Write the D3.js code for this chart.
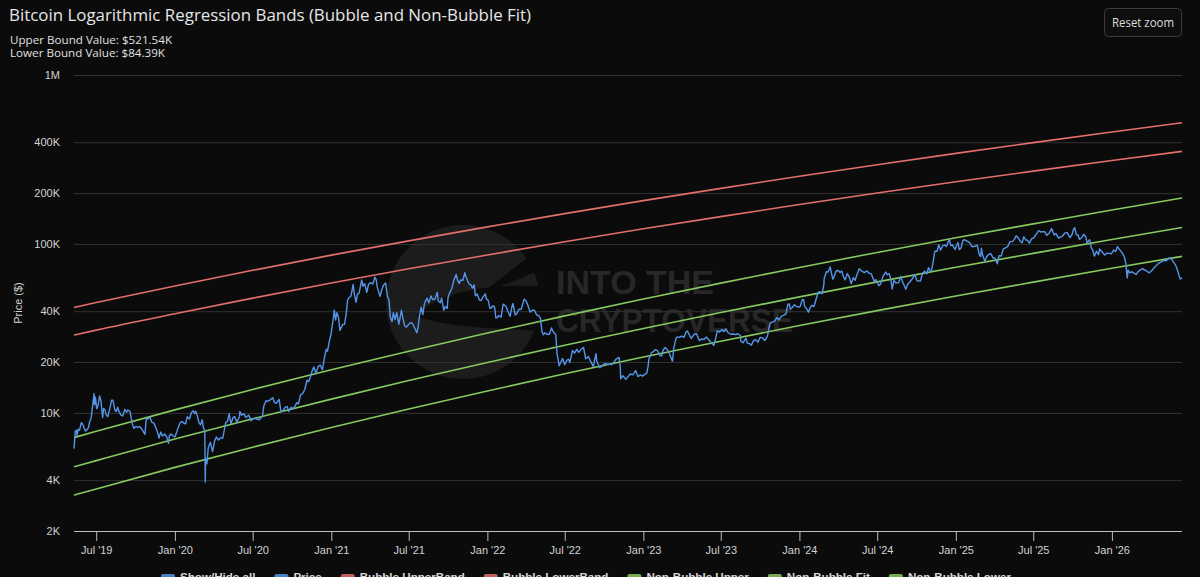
<!DOCTYPE html>
<html><head><meta charset="utf-8">
<script src="https://cdn.jsdelivr.net/npm/d3@7"></script>
<style>
html,body{margin:0;padding:0;background:#0b0b0b;overflow:hidden;}
svg{display:block;}
</style></head><body>
<svg id="c" width="1200" height="577"></svg>
<script>
// ---------- DATA ----------
const titleText = "Bitcoin Logarithmic Regression Bands (Bubble and Non-Bubble Fit)";
const subtitleLines = ["Upper Bound Value: $521.54K", "Lower Bound Value: $84.39K"];
const yTicks = [2000, 4000, 10000, 20000, 40000, 100000, 200000, 400000, 1000000];
const yTickLabels = ["2K", "4K", "10K", "20K", "40K", "100K", "200K", "400K", "1M"];
const xTicks = ["2019-07-01","2020-01-01","2020-07-01","2021-01-01","2021-07-01","2022-01-01","2022-07-01","2023-01-01","2023-07-01","2024-01-01","2024-07-01","2025-01-01","2025-07-01","2026-01-01"];
const xTickLabels = ["Jul '19","Jan '20","Jul '20","Jan '21","Jul '21","Jan '22","Jul '22","Jan '23","Jul '23","Jan '24","Jul '24","Jan '25","Jul '25","Jan '26"];
const legendLabels = ["Show/Hide all","Price","Bubble UpperBand","Bubble LowerBand","Non-Bubble Upper","Non-Bubble Fit","Non-Bubble Lower"];

// regression band values (thousand USD) at these dates
const bandDates = ["2019-05-10","2019-07-01","2020-01-01","2020-07-01","2021-01-01","2021-07-01","2022-01-01","2022-07-01","2023-01-01","2023-07-01","2024-01-01","2024-07-01","2025-01-01","2025-07-01","2026-01-01","2026-06-14"];
const bubbleUpper = [42.1,45.0,56.4,69.8,85.9,104.3,126.2,151.2,180.4,213.4,251.6,294.5,343.7,397.7,459.9,521.54];
const bubbleLower = [28.9,30.9,38.6,47.8,58.7,71.3,86.1,103.1,122.9,145.2,171.1,200.1,233.2,269.7,311.6,353.2];
const nonBubbleUpper = [7.14,7.78,10.42,13.76,18.0,23.18,29.68,37.51,47.18,58.66,72.62,89.1,108.9,131.5,158.9,187.1];
const nonBubbleFit = [4.80,5.22,7.00,9.23,12.07,15.54,19.88,25.13,31.6,39.26,48.63,59.63,72.81,87.99,106.2,125.0];
const nonBubbleLower = [3.26,3.55,4.76,6.27,8.19,10.54,13.48,17.03,21.4,26.58,32.89,40.32,49.2,59.43,71.73,84.39];

// BTC price (thousand USD)
const priceSeries = [
["2019-05-10",6.15],["2019-05-13",7.8],["2019-05-16",7.9],["2019-05-17",7.35],["2019-05-20",8.0],["2019-05-23",7.9],["2019-05-27",8.75],["2019-05-30",8.6],
["2019-06-03",8.1],["2019-06-06",7.8],["2019-06-10",8.0],["2019-06-13",8.2],["2019-06-16",8.95],["2019-06-19",9.3],["2019-06-22",10.7],["2019-06-26",13.0],["2019-06-27",11.2],["2019-06-29",12.4],
["2019-07-02",10.6],["2019-07-05",11.0],["2019-07-09",12.6],["2019-07-12",11.8],["2019-07-16",9.4],["2019-07-18",10.6],["2019-07-21",10.5],["2019-07-24",9.8],["2019-07-28",9.5],
["2019-08-01",10.4],["2019-08-06",11.9],["2019-08-09",11.9],["2019-08-14",10.3],["2019-08-17",10.2],["2019-08-20",10.8],["2019-08-24",10.1],["2019-08-28",9.7],
["2019-09-01",9.6],["2019-09-06",10.5],["2019-09-10",10.1],["2019-09-13",10.4],["2019-09-18",10.2],["2019-09-24",8.5],["2019-09-27",8.1],
["2019-10-02",8.3],["2019-10-07",8.2],["2019-10-11",8.3],["2019-10-16",8.0],["2019-10-23",7.45],["2019-10-26",9.25],["2019-10-30",9.2],
["2019-11-04",9.4],["2019-11-08",8.8],["2019-11-13",8.7],["2019-11-18",8.1],["2019-11-22",7.6],["2019-11-25",7.1],["2019-11-29",7.7],
["2019-12-03",7.3],["2019-12-08",7.5],["2019-12-13",7.2],["2019-12-17",6.6],["2019-12-19",7.3],["2019-12-23",7.5],["2019-12-28",7.3],
["2020-01-01",7.2],["2020-01-06",7.8],["2020-01-08",8.1],["2020-01-14",8.8],["2020-01-18",8.9],["2020-01-22",8.7],["2020-01-26",8.6],["2020-01-30",9.5],
["2020-02-04",9.2],["2020-02-09",10.1],["2020-02-13",10.3],["2020-02-16",9.9],["2020-02-19",10.2],["2020-02-22",9.7],["2020-02-26",8.8],
["2020-03-01",8.5],["2020-03-05",9.1],["2020-03-08",8.1],["2020-03-11",7.9],["2020-03-12",3.9],["2020-03-13",5.4],["2020-03-16",5.0],["2020-03-19",6.2],["2020-03-24",6.7],["2020-03-29",5.9],
["2020-04-03",6.8],["2020-04-07",7.2],["2020-04-12",6.9],["2020-04-16",7.1],["2020-04-22",7.1],["2020-04-29",8.8],
["2020-05-03",8.9],["2020-05-07",9.9],["2020-05-11",8.6],["2020-05-16",9.4],["2020-05-20",9.5],["2020-05-25",8.8],["2020-05-31",9.5],
["2020-06-01",10.2],["2020-06-05",9.7],["2020-06-10",9.9],["2020-06-15",9.4],["2020-06-22",9.7],["2020-06-27",9.0],
["2020-07-01",9.2],["2020-07-06",9.3],["2020-07-11",9.2],["2020-07-16",9.1],["2020-07-21",9.4],["2020-07-24",9.6],["2020-07-27",11.0],
["2020-08-01",11.8],["2020-08-05",11.7],["2020-08-10",11.9],["2020-08-17",12.3],["2020-08-21",11.5],["2020-08-25",11.4],
["2020-09-01",12.0],["2020-09-05",10.2],["2020-09-10",10.3],["2020-09-15",10.8],["2020-09-20",10.9],["2020-09-23",10.2],["2020-09-29",10.8],
["2020-10-03",10.6],["2020-10-08",10.9],["2020-10-12",11.5],["2020-10-16",11.3],["2020-10-21",12.8],["2020-10-26",13.0],["2020-10-31",13.8],
["2020-11-05",15.6],["2020-11-09",15.3],["2020-11-13",16.3],["2020-11-17",17.7],["2020-11-21",18.7],["2020-11-26",17.1],
["2020-12-01",18.8],["2020-12-06",19.2],["2020-12-11",18.0],["2020-12-16",21.3],["2020-12-20",23.8],["2020-12-23",23.2],["2020-12-27",26.3],["2020-12-31",29.0],
["2021-01-03",32.8],["2021-01-06",36.8],["2021-01-08",40.6],["2021-01-11",35.5],["2021-01-14",39.2],["2021-01-18",36.6],["2021-01-21",30.8],["2021-01-25",32.3],["2021-01-28",33.4],
["2021-02-01",33.5],["2021-02-05",38.9],["2021-02-08",46.4],["2021-02-11",48.0],["2021-02-16",49.2],["2021-02-21",57.5],["2021-02-24",50.0],["2021-02-28",45.2],
["2021-03-03",50.5],["2021-03-07",51.2],["2021-03-13",61.2],["2021-03-16",56.2],["2021-03-20",58.3],["2021-03-25",51.7],["2021-03-29",57.6],
["2021-04-02",59.0],["2021-04-08",58.0],["2021-04-13",63.5],["2021-04-16",61.4],["2021-04-18",56.1],["2021-04-22",51.7],["2021-04-25",49.0],["2021-04-29",53.6],
["2021-05-03",57.0],["2021-05-08",58.8],["2021-05-12",49.2],["2021-05-16",46.4],["2021-05-19",37.0],["2021-05-23",34.7],["2021-05-26",39.2],["2021-05-30",35.7],
["2021-06-03",39.2],["2021-06-08",33.5],["2021-06-14",40.5],["2021-06-18",35.8],["2021-06-22",32.5],["2021-06-26",32.2],
["2021-07-01",33.5],["2021-07-06",34.2],["2021-07-10",33.8],["2021-07-15",31.8],["2021-07-20",29.8],["2021-07-23",32.3],["2021-07-26",37.3],["2021-07-30",42.2],
["2021-08-03",38.2],["2021-08-07",44.6],["2021-08-13",47.8],["2021-08-17",44.8],["2021-08-22",49.3],["2021-08-26",46.9],["2021-08-31",47.1],
["2021-09-06",51.7],["2021-09-08",46.1],["2021-09-13",44.9],["2021-09-16",47.7],["2021-09-21",40.6],["2021-09-25",42.7],["2021-09-29",41.5],
["2021-10-01",48.2],["2021-10-05",51.5],["2021-10-10",54.7],["2021-10-15",61.5],["2021-10-20",66.0],["2021-10-23",61.3],["2021-10-27",58.4],["2021-10-31",61.3],
["2021-11-05",61.0],["2021-11-09",67.5],["2021-11-12",64.1],["2021-11-16",60.3],["2021-11-19",58.1],["2021-11-24",57.1],["2021-11-27",54.7],
["2021-12-01",57.2],["2021-12-04",49.4],["2021-12-08",50.6],["2021-12-13",46.7],["2021-12-17",46.2],["2021-12-22",48.6],["2021-12-27",50.7],["2021-12-30",47.1],
["2022-01-03",46.4],["2022-01-07",41.6],["2022-01-10",41.8],["2022-01-14",43.1],["2022-01-18",42.3],["2022-01-21",36.4],["2022-01-24",36.6],["2022-01-28",37.7],
["2022-02-02",36.9],["2022-02-07",44.0],["2022-02-10",43.5],["2022-02-14",42.5],["2022-02-18",40.0],["2022-02-23",37.3],["2022-02-24",38.3],["2022-02-28",43.2],
["2022-03-02",44.4],["2022-03-07",38.0],["2022-03-11",38.8],["2022-03-16",41.1],["2022-03-21",41.0],["2022-03-28",47.1],
["2022-04-02",45.8],["2022-04-06",43.2],["2022-04-11",39.5],["2022-04-16",40.5],["2022-04-21",40.5],["2022-04-26",38.1],["2022-04-30",37.7],
["2022-05-05",36.5],["2022-05-09",30.1],["2022-05-12",29.0],["2022-05-16",29.8],["2022-05-20",29.2],["2022-05-26",29.2],["2022-05-31",31.8],
["2022-06-05",29.9],["2022-06-10",29.1],["2022-06-13",22.5],["2022-06-18",19.0],["2022-06-22",20.0],["2022-06-26",21.0],
["2022-07-01",19.3],["2022-07-06",20.5],["2022-07-10",20.8],["2022-07-13",19.9],["2022-07-19",23.4],["2022-07-24",22.6],["2022-07-29",23.8],
["2022-08-03",22.8],["2022-08-08",23.8],["2022-08-14",24.4],["2022-08-19",20.9],["2022-08-25",21.6],["2022-08-31",20.1],
["2022-09-06",18.8],["2022-09-12",22.4],["2022-09-14",20.2],["2022-09-21",18.5],["2022-09-27",19.1],
["2022-10-03",19.6],["2022-10-08",19.4],["2022-10-13",19.4],["2022-10-18",19.3],["2022-10-25",20.1],["2022-10-29",20.8],
["2022-11-05",21.3],["2022-11-08",18.5],["2022-11-09",15.9],["2022-11-14",16.6],["2022-11-21",15.8],["2022-11-27",16.5],
["2022-12-01",17.0],["2022-12-07",16.8],["2022-12-14",17.8],["2022-12-19",16.4],["2022-12-25",16.8],["2022-12-30",16.5],
["2023-01-04",16.9],["2023-01-09",17.2],["2023-01-12",18.9],["2023-01-14",20.9],["2023-01-20",22.7],["2023-01-25",23.1],["2023-01-29",23.7],
["2023-02-03",23.4],["2023-02-09",21.8],["2023-02-13",21.8],["2023-02-16",23.5],["2023-02-21",24.4],["2023-02-27",23.5],
["2023-03-03",22.4],["2023-03-10",20.2],["2023-03-13",24.1],["2023-03-18",27.4],["2023-03-21",28.2],["2023-03-26",28.0],["2023-03-31",28.5],
["2023-04-06",28.0],["2023-04-11",30.2],["2023-04-14",30.5],["2023-04-19",28.8],["2023-04-23",27.6],["2023-04-30",29.2],
["2023-05-05",29.5],["2023-05-12",26.8],["2023-05-17",27.4],["2023-05-23",27.2],["2023-05-28",28.1],
["2023-06-02",27.3],["2023-06-07",26.3],["2023-06-10",25.8],["2023-06-15",25.1],["2023-06-20",28.3],["2023-06-23",30.7],["2023-06-28",30.1],
["2023-07-04",31.2],["2023-07-08",30.3],["2023-07-13",31.4],["2023-07-18",29.9],["2023-07-24",29.2],["2023-07-30",29.3],
["2023-08-05",29.1],["2023-08-10",29.4],["2023-08-16",28.7],["2023-08-17",26.6],["2023-08-22",26.0],["2023-08-29",27.7],
["2023-09-01",25.9],["2023-09-06",25.7],["2023-09-11",25.2],["2023-09-15",26.6],["2023-09-20",27.2],["2023-09-26",26.2],
["2023-10-01",28.0],["2023-10-06",27.9],["2023-10-12",26.8],["2023-10-18",28.4],["2023-10-23",33.0],["2023-10-26",34.2],["2023-10-31",34.6],
["2023-11-05",35.1],["2023-11-09",36.7],["2023-11-14",35.5],["2023-11-20",37.4],["2023-11-25",37.8],
["2023-12-01",38.7],["2023-12-05",44.0],["2023-12-08",44.2],["2023-12-11",41.2],["2023-12-15",41.9],["2023-12-20",43.6],["2023-12-26",42.5],["2023-12-31",42.3],
["2024-01-03",42.8],["2024-01-08",47.0],["2024-01-11",46.6],["2024-01-13",42.9],["2024-01-18",41.3],["2024-01-22",39.5],["2024-01-26",41.8],["2024-01-30",43.3],
["2024-02-04",42.6],["2024-02-09",47.1],["2024-02-14",51.8],["2024-02-18",52.1],["2024-02-23",50.7],["2024-02-27",57.0],["2024-02-28",62.4],
["2024-03-04",68.4],["2024-03-08",68.3],["2024-03-13",73.1],["2024-03-19",62.0],["2024-03-22",63.8],["2024-03-27",69.4],
["2024-04-01",69.7],["2024-04-05",67.8],["2024-04-09",69.1],["2024-04-13",63.9],["2024-04-17",61.3],["2024-04-22",66.8],["2024-04-27",63.4],
["2024-05-01",58.2],["2024-05-06",63.2],["2024-05-10",60.8],["2024-05-15",66.2],["2024-05-20",71.4],["2024-05-25",69.3],
["2024-06-01",67.7],["2024-06-07",69.3],["2024-06-11",67.3],["2024-06-17",66.5],["2024-06-24",60.2],["2024-06-28",61.5],
["2024-07-05",56.6],["2024-07-09",58.0],["2024-07-15",64.8],["2024-07-21",68.2],["2024-07-25",65.7],["2024-07-29",66.7],
["2024-08-02",61.4],["2024-08-05",54.0],["2024-08-09",60.9],["2024-08-14",58.7],["2024-08-20",59.0],["2024-08-25",64.2],["2024-08-30",59.1],
["2024-09-06",54.0],["2024-09-10",57.6],["2024-09-17",60.3],["2024-09-23",63.3],["2024-09-27",65.8],
["2024-10-02",60.6],["2024-10-10",60.3],["2024-10-15",67.0],["2024-10-20",69.0],["2024-10-25",66.6],["2024-10-29",72.3],
["2024-11-03",68.7],["2024-11-05",69.4],["2024-11-08",76.5],["2024-11-12",88.0],["2024-11-13",90.5],["2024-11-18",90.5],["2024-11-22",98.9],["2024-11-26",91.9],
["2024-12-01",97.2],["2024-12-05",98.8],["2024-12-10",96.6],["2024-12-13",101.4],["2024-12-17",106.0],["2024-12-20",97.8],["2024-12-24",98.7],["2024-12-30",92.7],
["2025-01-02",96.9],["2025-01-06",102.0],["2025-01-09",92.5],["2025-01-13",94.5],["2025-01-17",104.3],["2025-01-21",106.1],["2025-01-25",104.7],["2025-01-31",102.4],
["2025-02-03",101.4],["2025-02-07",96.6],["2025-02-13",96.6],["2025-02-20",98.3],["2025-02-25",86.0],["2025-02-28",84.3],
["2025-03-02",94.3],["2025-03-04",87.2],["2025-03-10",78.6],["2025-03-14",84.0],["2025-03-19",86.9],["2025-03-24",87.5],["2025-03-29",82.6],
["2025-04-02",82.5],["2025-04-08",76.3],["2025-04-12",85.3],["2025-04-17",84.9],["2025-04-22",93.4],["2025-04-28",95.0],
["2025-05-02",96.5],["2025-05-08",103.2],["2025-05-14",103.5],["2025-05-18",106.5],["2025-05-22",111.6],["2025-05-26",109.4],["2025-05-31",104.6],
["2025-06-05",101.5],["2025-06-09",110.3],["2025-06-13",105.9],["2025-06-18",104.9],["2025-06-22",101.0],["2025-06-27",107.1],
["2025-07-02",108.8],["2025-07-10",116.0],["2025-07-14",119.8],["2025-07-18",117.8],["2025-07-24",118.3],["2025-07-28",118.0],
["2025-08-02",112.5],["2025-08-08",116.6],["2025-08-13",123.3],["2025-08-19",112.9],["2025-08-23",115.4],["2025-08-29",108.4],
["2025-09-01",109.2],["2025-09-07",111.1],["2025-09-13",116.0],["2025-09-18",117.1],["2025-09-25",109.0],["2025-09-30",114.0],
["2025-10-03",122.3],["2025-10-06",124.7],["2025-10-10",113.2],["2025-10-14",113.0],["2025-10-17",106.5],["2025-10-22",108.5],["2025-10-27",114.1],
["2025-11-01",110.0],["2025-11-04",101.5],["2025-11-10",106.0],["2025-11-14",94.5],["2025-11-17",92.2],["2025-11-21",84.7],["2025-11-26",90.5],
["2025-12-01",86.5],["2025-12-03",93.4],["2025-12-08",90.6],["2025-12-15",86.0],["2025-12-20",88.2],["2025-12-26",88.0],["2025-12-31",87.5],
["2026-01-05",92.0],["2026-01-10",90.5],["2026-01-14",96.5],["2026-01-19",92.5],["2026-01-25",88.5],["2026-01-30",84.0],
["2026-02-03",76.0],["2026-02-05",66.0],["2026-02-06",63.0],["2026-02-08",70.0],["2026-02-12",67.5],["2026-02-17",68.5],["2026-02-22",67.0],["2026-02-27",66.0],
["2026-03-03",68.5],["2026-03-08",70.0],["2026-03-14",71.5],["2026-03-19",70.0],["2026-03-24",69.0],["2026-03-28",67.5],
["2026-04-02",68.5],["2026-04-08",71.5],["2026-04-13",73.5],["2026-04-18",76.0],["2026-04-23",77.5],["2026-04-28",78.5],
["2026-05-03",80.0],["2026-05-08",79.5],["2026-05-13",82.0],["2026-05-17",83.0],["2026-05-21",81.0],["2026-05-26",77.5],["2026-05-30",75.0],
["2026-06-03",70.5],["2026-06-07",65.0],["2026-06-10",62.0],["2026-06-14",63.0]
];

// ---------- DRAW ----------
const parse = d3.utcParse("%Y-%m-%d");
const W = 1200, H = 577;
const L = 74, R = 1182, T = 75, B = 531;
const colors = {price:"#5596ea", red:"#e36f6c", green:"#86c95f", grid:"#313131"};

const svg = d3.select("#c");
svg.append("rect").attr("width", W).attr("height", H).attr("fill", "#0b0b0b");

const x = d3.scaleUtc()
  .domain([parse(priceSeries[0][0]), parse(priceSeries[priceSeries.length - 1][0])])
  .range([L, R]);
const y = d3.scaleLog().domain([2000, 1000000]).range([B, T]);

// watermark
const wm = svg.append("g");
wm.append("circle").attr("cx", 463).attr("cy", 302).attr("r", 77).attr("fill", "#1c1c1c");
wm.append("path").attr("fill", "#0b0b0b")
  .attr("d", "M416,316 C438,293 480,284 542,286 L542,331 C492,328 450,328 416,316 Z");
wm.append("path").attr("fill", "#0b0b0b")
  .attr("d", "M478,296 L545,244 L545,268 Z");
wm.append("text").attr("x", 556).attr("y", 294).attr("fill", "#272727")
  .attr("font-family", "Liberation Sans, Arial, sans-serif").attr("font-weight", "bold")
  .attr("font-size", 33).attr("textLength", 158).attr("lengthAdjust", "spacingAndGlyphs").text("INTO THE");
wm.append("text").attr("x", 556).attr("y", 332).attr("fill", "#272727")
  .attr("font-family", "Liberation Sans, Arial, sans-serif").attr("font-weight", "bold")
  .attr("font-size", 33).attr("textLength", 237).attr("lengthAdjust", "spacingAndGlyphs").text("CRYPTOVERSE");

// horizontal grid
const grid = svg.append("g").attr("transform", `translate(${L},0)`)
  .call(d3.axisRight(y).tickValues(yTicks).tickSize(R - L).tickFormat(""));
grid.select(".domain").remove();
grid.selectAll("line").attr("stroke", colors.grid).attr("stroke-width", 1);

// y axis labels
const yAx = svg.append("g").attr("transform", `translate(${L},0)`)
  .call(d3.axisLeft(y).tickValues(yTicks).tickSize(0).tickPadding(14)
    .tickFormat((d, i) => yTickLabels[i]));
yAx.select(".domain").remove();
yAx.selectAll("text").attr("fill", "#d2d2d2").attr("font-size", 11)
  .attr("font-family", "Liberation Sans, Arial, sans-serif");

svg.append("text").attr("transform", `translate(22,${(T + B) / 2}) rotate(-90)`)
  .attr("text-anchor", "middle").attr("fill", "#d2d2d2").attr("font-size", 11)
  .attr("font-family", "Liberation Sans, Arial, sans-serif").text("Price ($)");

// x axis
const xAx = svg.append("g").attr("transform", `translate(0,${B})`)
  .call(d3.axisBottom(x).tickValues(xTicks.map(parse)).tickSize(10).tickPadding(5)
    .tickFormat((d, i) => xTickLabels[i]));
xAx.select(".domain").attr("stroke", "#bdbdbd").attr("d", `M${L},0.5H${R}`);
xAx.selectAll("line").attr("stroke", "#bdbdbd");
xAx.selectAll("text").attr("fill", "#d2d2d2").attr("font-size", 11)
  .attr("font-family", "Liberation Sans, Arial, sans-serif");

// plot lines
const line = d3.line().x(d => x(d[0])).y(d => y(d[1])).curve(d3.curveMonotoneX);
const bandSeries = [
  {vals: bubbleUpper, color: colors.red},
  {vals: bubbleLower, color: colors.red},
  {vals: nonBubbleUpper, color: colors.green},
  {vals: nonBubbleFit, color: colors.green},
  {vals: nonBubbleLower, color: colors.green}
];
const plot = svg.append("g");
bandSeries.forEach(s => {
  plot.append("path")
    .datum(bandDates.map((d, i) => [parse(d), s.vals[i] * 1000]))
    .attr("fill", "none").attr("stroke", s.color).attr("stroke-width", 1.6)
    .attr("d", line);
});
const priceLine = d3.line().x(d => x(d[0])).y(d => y(d[1]));
plot.append("path")
  .datum(priceSeries.map(d => [parse(d[0]), d[1] * 1000]))
  .attr("fill", "none").attr("stroke", colors.price).attr("stroke-width", 1.4)
  .attr("stroke-linejoin", "round").attr("d", priceLine);

// title & subtitle
svg.append("text").attr("x", 9).attr("y", 21).attr("fill", "#e6e6e6")
  .attr("font-family", "Open Sans, Liberation Sans, sans-serif").attr("font-size", 16)
  .attr("textLength", 522).attr("lengthAdjust", "spacingAndGlyphs").text(titleText);
const subW = [162, 155];
subtitleLines.forEach((t, i) => {
  svg.append("text").attr("x", 10).attr("y", 44 + i * 12.7).attr("fill", "#e0e0e0")
    .attr("font-family", "Open Sans, Liberation Sans, sans-serif").attr("font-size", 11)
    .attr("textLength", subW[i]).attr("lengthAdjust", "spacingAndGlyphs").text(t);
});

// reset zoom button
const btn = svg.append("g");
btn.append("rect").attr("x", 1104.5).attr("y", 8.5).attr("width", 77).attr("height", 28).attr("rx", 4)
  .attr("fill", "#0e0e0e").attr("stroke", "#3c3c3c");
btn.append("text").attr("x", 1143).attr("y", 27).attr("text-anchor", "middle").attr("fill", "#dcdcdc")
  .attr("font-family", "Open Sans, Liberation Sans, sans-serif").attr("font-size", 12)
  .attr("textLength", 62).attr("lengthAdjust", "spacingAndGlyphs").text("Reset zoom");

// legend (cut by the bottom edge, as in the reference)
const legendColors = [colors.price, colors.price, colors.red, colors.red, colors.green, colors.green, colors.green];
const lg = svg.append("g");
let lx = 161;
legendLabels.forEach((lab, i) => {
  lg.append("rect").attr("x", lx).attr("y", 574).attr("width", 14).attr("height", 8).attr("rx", 2)
    .attr("fill", legendColors[i]).attr("opacity", 0.85);
  const t = lg.append("text").attr("x", lx + 19).attr("y", 580.5).attr("fill", "#d6d6d6")
    .attr("font-family", "Liberation Sans, Arial, sans-serif").attr("font-weight", "bold")
    .attr("font-size", 11.6).text(lab);
  lx += 19 + t.node().getComputedTextLength() + 19;
});
</script>
</body></html>
